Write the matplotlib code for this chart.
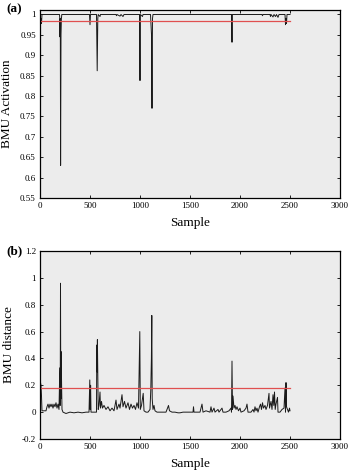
"""BMU activation and BMU distance over samples."""

import matplotlib
matplotlib.use("Agg")
import matplotlib.pyplot as plt

# panel (a): BMU activation
act_sample = [0, 3, 6, 10, 15, 20, 195, 198, 200, 203, 206, 210, 214, 218, 495, 500, 505,
              565, 572, 578, 582, 600, 605, 760, 765, 770, 800, 810, 830, 840, 995, 1000,
              1004, 1025, 1030, 1105, 1115, 1120, 1125, 1130, 1915, 1920, 1924, 2220, 2225,
              2230, 2300, 2305, 2310, 2330, 2340, 2355, 2365, 2380, 2390, 2450, 2455, 2460,
              2465, 2470, 2500]
act_value = [0.975, 1.0, 0.98, 0.99, 0.978, 1.0, 1.0, 0.99, 0.945, 0.99, 0.63, 0.95, 0.99,
             1.0, 1.0, 0.975, 1.0, 1.0, 0.862, 0.99, 1.0, 0.995, 1.0, 1.0, 0.997, 1.0, 0.996,
             1.0, 0.995, 1.0, 1.0, 0.838, 1.0, 0.995, 1.0, 1.0, 0.95, 0.77, 0.99, 1.0, 1.0,
             0.932, 1.0, 1.0, 0.997, 1.0, 1.0, 0.995, 1.0, 0.994, 1.0, 0.995, 1.0, 0.993,
             1.0, 1.0, 0.975, 0.99, 0.978, 1.0, 1.0]
act_threshold = 0.985

# panel (b): BMU distance
dist_sample = [0, 5, 10, 15, 20, 30, 60, 70, 80, 90, 100, 110, 120, 130, 140, 150, 160, 170,
               180, 190, 198, 202, 205, 208, 212, 216, 220, 230, 260, 300, 340, 380, 420,
               460, 490, 498, 502, 506, 510, 540, 565, 568, 571, 574, 578, 582, 590, 600,
               605, 615, 625, 640, 660, 680, 700, 720, 740, 760, 770, 790, 800, 820, 830,
               845, 860, 880, 895, 910, 925, 940, 955, 970, 985, 998, 1003, 1015, 1025,
               1032, 1040, 1060, 1080, 1100, 1108, 1114, 1118, 1122, 1130, 1140, 1150,
               1170, 1200, 1230, 1260, 1285, 1295, 1320, 1350, 1380, 1400, 1430, 1460,
               1500, 1530, 1535, 1540, 1570, 1600, 1620, 1630, 1660, 1700, 1710, 1720,
               1740, 1750, 1780, 1790, 1820, 1830, 1860, 1890, 1910, 1915, 1920, 1925,
               1930, 1940, 1950, 1960, 1970, 1985, 2000, 2010, 2040, 2060, 2070, 2080,
               2110, 2130, 2140, 2150, 2160, 2170, 2180, 2195, 2205, 2215, 2225, 2235,
               2250, 2260, 2275, 2290, 2295, 2310, 2320, 2330, 2338, 2345, 2352, 2360,
               2375, 2380, 2400, 2420, 2440, 2450, 2455, 2460, 2465, 2475, 2485, 2495, 2500]
dist_value = [0.10, 0.22, 0.20, 0.12, 0.01, 0.01, 0.01, 0.04, 0.06, 0.03, 0.06, 0.04, 0.06,
              0.03, 0.06, 0.04, 0.07, 0.03, 0.06, 0.02, 0.33, 0.05, 0.96, 0.10, 0.45, 0.20,
              0.02, 0.0, -0.01, 0.0, -0.005, 0.0, -0.005, 0.0, 0.0, 0.24, 0.02, 0.20, 0.0,
              0.0, 0.0, 0.50, 0.30, 0.54, 0.28, 0.02, 0.05, 0.15, 0.03, 0.08, 0.03, 0.05,
              0.02, 0.04, 0.01, 0.03, 0.01, 0.09, 0.02, 0.06, 0.03, 0.13, 0.04, 0.08, 0.03,
              0.07, 0.02, 0.06, 0.03, 0.05, 0.02, 0.07, 0.03, 0.60, 0.02, 0.05, 0.10, 0.14,
              0.01, 0.0, 0.0, 0.02, 0.17, 0.40, 0.72, 0.10, 0.02, 0.05, 0.01, 0.0, 0.0, 0.0,
              0.0, 0.05, 0.01, 0.0, 0.0, -0.005, -0.005, 0.0, 0.0, 0.0, 0.0, 0.04, 0.0, 0.0,
              0.0, 0.06, 0.0, 0.01, 0.0, 0.04, 0.0, 0.03, 0.0, 0.02, 0.0, 0.03, 0.0, 0.0,
              0.01, 0.03, 0.0, 0.38, 0.02, 0.12, 0.03, 0.05, 0.02, 0.04, 0.01, 0.03, 0.0,
              0.01, 0.03, 0.06, 0.0, 0.0, 0.02, 0.0, 0.04, 0.01, 0.03, 0.0, 0.04, 0.06, 0.02,
              0.07, 0.03, 0.05, 0.02, 0.05, 0.14, 0.03, 0.08, 0.02, 0.13, 0.05, 0.15, 0.02,
              0.06, 0.11, 0.0, 0.0, 0.02, 0.03, 0.18, 0.0, 0.22, 0.04, 0.02, 0.0, 0.03, 0.01]
dist_threshold = 0.18

threshold_end = 2500

plt.rcParams["font.family"] = "Liberation Serif"
plt.rcParams["font.size"] = 7

fig = plt.figure(figsize=(3.49, 4.72), dpi=100)
ax_a = fig.add_axes([40 / 349, 1 - 198 / 472, 300 / 349, 188 / 472])
ax_b = fig.add_axes([40 / 349, 1 - 439 / 472, 300 / 349, 188 / 472])


def style_axis(ax):
    ax.set_facecolor("#ececec")
    ax.tick_params(direction="in", top=True, right=True, length=2.5, width=0.6,
                   labelsize=6.5, pad=3)
    for spine in ax.spines.values():
        spine.set_linewidth(0.9)
    ax.set_xlim(0, 3000)
    ax.set_xticks(range(0, 3001, 500))
    ax.set_xlabel("Sample", fontsize=9.5, labelpad=5)


ax_a.plot(act_sample, act_value, color="#1a1a1a", linewidth=0.7)
ax_a.plot([0, threshold_end], [act_threshold, act_threshold], color="#e05050", linewidth=0.9)
style_axis(ax_a)
ax_a.set_ylim(0.55, 1.011)
ax_a.set_yticks([0.55, 0.6, 0.65, 0.7, 0.75, 0.8, 0.85, 0.9, 0.95, 1.0])
ax_a.set_yticklabels(["0.55", "0.6", "0.65", "0.7", "0.75", "0.8", "0.85", "0.9", "0.95", "1"])
ax_a.set_ylabel("BMU Activation", fontsize=9.5, labelpad=5)
fig.text(6 / 349, 1 - 9 / 472, "(a)", fontsize=9.5, fontweight="bold", va="center")

ax_b.plot(dist_sample, dist_value, color="#1a1a1a", linewidth=0.7)
ax_b.plot([0, threshold_end], [dist_threshold, dist_threshold], color="#e05050", linewidth=0.9)
style_axis(ax_b)
ax_b.set_ylim(-0.2, 1.2)
ax_b.set_yticks([-0.2, 0, 0.2, 0.4, 0.6, 0.8, 1.0, 1.2])
ax_b.set_yticklabels(["-0.2", "0", "0.2", "0.4", "0.6", "0.8", "1", "1.2"])
ax_b.set_ylabel("BMU distance", fontsize=9.5, labelpad=5)
fig.text(6 / 349, 1 - 251 / 472, "(b)", fontsize=9.5, fontweight="bold", va="center")

fig.savefig("out.png", dpi=100)
plt.close(fig)
